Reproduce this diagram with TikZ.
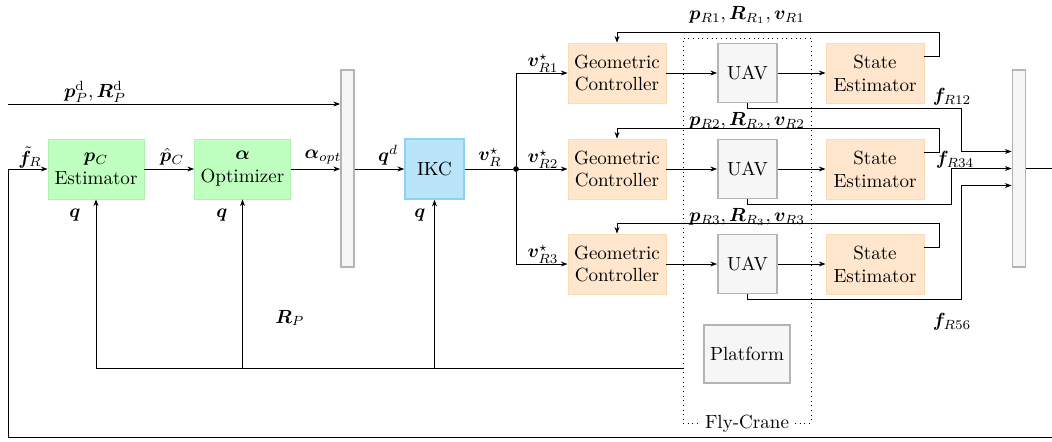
\documentclass[tikz,border=0pt]{standalone}
\usepackage{amsmath}
\usepackage{bm}
\usetikzlibrary{arrows.meta, positioning, calc}
\definecolor{estgreen}{RGB}{191,255,191}
\definecolor{estline}{RGB}{175,240,175}
\definecolor{ikcblue}{RGB}{185,228,250}
\definecolor{ikcline}{RGB}{140,210,245}
\definecolor{ctrlorange}{RGB}{255,230,204}
\definecolor{ctrlline}{RGB}{252,218,180}
\definecolor{plantgray}{RGB}{246,246,246}
\definecolor{plantline}{RGB}{180,180,180}

\tikzset{
  estbox/.style={fill=estgreen, draw=estline, minimum width=50.4pt, minimum height=31.5pt, align=center, inner sep=1pt},
  ikcbox/.style={fill=ikcblue, draw=ikcline, line width=0.8pt, minimum width=31pt, minimum height=31.5pt},
  ctrlbox/.style={fill=ctrlorange, draw=ctrlline, minimum width=51.5pt, minimum height=31.5pt, align=center, inner sep=1pt},
  plantbox/.style={fill=plantgray, draw=plantline, line width=1pt, align=center},
  muxbar/.style={fill=plantgray, draw=plantline, line width=1pt, minimum width=6.8pt, minimum height=103.4pt, inner sep=0pt},
  junction/.style={circle, fill=black, inner sep=0pt, minimum size=3pt},
  crane/.style={draw, dotted, line width=0.45pt, minimum width=67.2pt, minimum height=202.1pt, inner sep=0pt},
}

\begin{document}
\begin{tikzpicture}[x=0.525pt, y=-0.525pt, >={Stealth[length=3.5pt,width=2.6pt]}, line width=0.45pt]
    \useasboundingbox (0,0) rectangle (1052,441);

    % Fly-Crane frame
    \node[crane] (crane) at (747,230.5) {};
    \node[fill=white, inner sep=2pt] (cranelbl) at (crane.south) {Fly-Crane};
    \node[plantbox, minimum width=45pt, minimum height=30.5pt] (plat) at (747,354) {Platform};

    % Main chain
    \node[estbox] (est) at (96,169) {$\bm{p}_C$\\Estimator};
    \node[estbox] (opt) at (242.5,169) {$\bm{\alpha}$\\Optimizer};
    \node[muxbar] (mux1) at (347.5,168.5) {};
    \node[ikcbox] (ikc) at (434.5,169) {IKC};
    \node[junction] (split) at (516,169) {};
    \node[muxbar] (mux2) at (1019,168.5) {};

    \draw[->] (est) -- (opt);
    \draw[->] (opt) -- (opt -| mux1.west);
    \draw[->] (mux1.east |- ikc) -- (ikc);
    \draw (ikc) -- (split);

    % Desired platform pose
    \coordinate (pdin) at (8,104);
    \draw[->] (pdin) -- (pdin -| mux1.west);
    \node (lblpd) at (95,92) {$\bm{p}_P^{\mathrm{d}}, \bm{R}_P^{\mathrm{d}}$};

    % Robots
    \foreach \i/\y/\ly in {1/73/15, 2/169/121, 3/264/217} {
        \node[ctrlbox] (gc\i) at (617,\y) {Geometric\\Controller};
        \node[plantbox, minimum size=31pt] (uav\i) at (747.5,\y) {UAV};
        \node[ctrlbox] (se\i) at (875,\y) {State\\Estimator};
        \draw[->] (split) |- (gc\i);
        \draw[->] (gc\i) -- (uav\i);
        \draw[->] (uav\i) -- (se\i);
        \draw[->] ($(se\i.east)+(0,-17)$) -- ++(15,0) -- ++(0,-24) -| (gc\i.north);
        \node (lblR\i) at (747,\ly) {$\bm{p}_{R\i}, \bm{R}_{R_\i}, \bm{v}_{R\i}$};
        \node (lblv\i) at (543,\y-10) {$\bm{v}_{R\i}^{\star}$};
    }

    % Forces to the right mux
    \draw[->] (uav1.south) -- ++(0,5) -| ($(mux2.west)+(-50,-17)$) -- ($(mux2.west)+(0,-17)$);
    \draw[->] (uav2.south) -- ++(0,5) -| ($(mux2.west)+(-60,0)$) -- (mux2.west);
    \draw[->] (uav3.south) -- ++(0,5) -| ($(mux2.west)+(-50,17)$) -- ($(mux2.west)+(0,17)$);
    \node (lblf12) at (952,97) {$\bm{f}_{R12}$};
    \node (lblf34) at (955,160) {$\bm{f}_{R34}$};
    \node (lblf56) at (952,322) {$\bm{f}_{R56}$};

    % Output and force feedback
    \coordinate (out) at (1052,169);
    \draw (mux2.east) -- (mux2.east -| out);
    \coordinate (fbR) at (1052,437);
    \coordinate (fbL) at (8,437);
    \draw[->] (fbR) -- (fbL) |- (est.west);

    % Platform state feedback
    \coordinate (pl) at (683,368);
    \draw[->] (pl) -| (est.south);
    \draw[->] (opt |- pl) -- (opt.south);
    \draw[->] (ikc |- pl) -- (ikc.south);

    % Signal labels
    \node (lblft) at (30,157) {$\tilde{\bm{f}}_R$};
    \node (lblph) at (172,157) {$\hat{\bm{p}}_C$};
    \node (lblal) at (323,157) {$\bm{\alpha}_{opt}$};
    \node (lblqd) at (388,155) {$\bm{q}^d$};
    \node (lblvr) at (490,157) {$\bm{v}_R^{\star}$};
    \node (lblq1) at (75,215) {$\bm{q}$};
    \node (lblq2) at (222,215) {$\bm{q}$};
    \node (lblq3) at (420,215) {$\bm{q}$};
    \node (lblRP) at (290,318) {$\bm{R}_P$};
\end{tikzpicture}
\end{document}
